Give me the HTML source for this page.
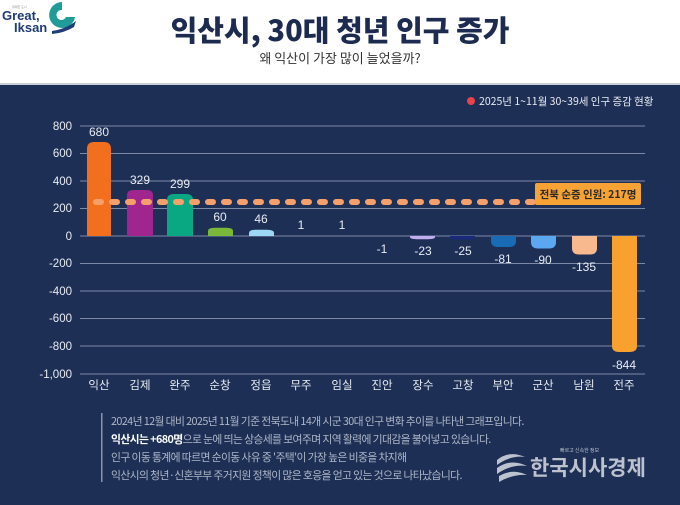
<!DOCTYPE html>
<html><head><meta charset="utf-8"><style>
body{margin:0;width:680px;height:500px;overflow:hidden;background:#1d2f55;font-family:"Liberation Sans","Noto Sans CJK KR",sans-serif}
</style></head><body>
<svg width="680" height="500" xmlns="http://www.w3.org/2000/svg" font-family="Liberation Sans, Noto Sans CJK KR, sans-serif">
<rect x="0" y="0" width="680" height="85" fill="#fff"/>
<rect x="0" y="83" width="680" height="2" fill="#c9ced8"/>
<rect x="0" y="85" width="680" height="415" fill="#1d2f55"/>
<text x="12" y="8" font-size="3" fill="#888">위대한 도시</text>
<text x="2" y="20" font-size="13" font-weight="bold" fill="#1f3c78">Great,</text>
<text x="14" y="32" font-size="13" font-weight="bold" fill="#1f3c78">Iksan</text>
<path d="M62 2 A13 13 0 1 0 75 17 L66 17 A5 5 0 1 1 62 10 Z" fill="#1f9c9a"/>
<path d="M52 31 Q66 29 76 21 L74 27 Q64 33 52 34Z" fill="#1f3c78"/>
<text x="340" y="41" font-size="29" font-weight="900" fill="#1c2b4f" text-anchor="middle" font-family="Noto Sans CJK KR, sans-serif">익산시, 30대 청년 인구 증가</text>
<text x="340" y="63" font-size="13" fill="#333" text-anchor="middle" font-family="Noto Sans CJK KR, sans-serif">왜 익산이 가장 많이 늘었을까?</text>
<circle cx="471" cy="101" r="4" fill="#e8434a"/>
<text x="479" y="105" font-size="10.5" fill="#e8ecf3" font-family="Noto Sans CJK KR, sans-serif">2025년 1~11월 30~39세 인구 증감 현황</text>
<g stroke="#7d8aa6" stroke-width="1">
<line x1="80" y1="126" x2="645" y2="126"/><line x1="80" y1="153.5" x2="645" y2="153.5"/>
<line x1="80" y1="181" x2="645" y2="181"/><line x1="80" y1="208.5" x2="645" y2="208.5"/>
<line x1="80" y1="236" x2="645" y2="236"/><line x1="80" y1="263.5" x2="645" y2="263.5"/>
<line x1="80" y1="291" x2="645" y2="291"/><line x1="80" y1="318.5" x2="645" y2="318.5"/>
<line x1="80" y1="346" x2="645" y2="346"/><line x1="80" y1="374" x2="645" y2="374"/>
</g>
<g font-size="11.5" fill="#e8ecf3" text-anchor="end">
<text x="72" y="130">800</text><text x="72" y="157">600</text><text x="72" y="185">400</text>
<text x="72" y="212">200</text><text x="72" y="240">0</text><text x="72" y="267">-200</text>
<text x="72" y="295">-400</text><text x="72" y="322">-600</text><text x="72" y="350">-800</text>
<text x="72" y="378">-1,000</text>
</g>
<g>
<path d="M87 236 V149 Q87 142 94 142 H104 Q111 142 111 149 V236Z" fill="#f26f1d"/>
<path d="M127 236 V195 Q127 190 134 190 H146 Q153 190 153 195 V236Z" fill="#a0258f"/>
<path d="M167 236 V200 Q167 194 174 194 H186 Q193 194 193 200 V236Z" fill="#0aa882"/>
<path d="M208 236 V231 Q208 227.7 215 227.7 H226 Q233 227.7 233 231 V236Z" fill="#7ab83a"/>
<path d="M249 236 V233 Q249 229.7 256 229.7 H267 Q274 229.7 274 233 V236Z" fill="#9dd7f5"/>
<path d="M410 236 V237 Q410 239.2 417 239.2 H428 Q435 239.2 435 237 V236Z" fill="#c0aef0"/>
<path d="M450 236 V237 Q450 239.5 457 239.5 H468 Q475 239.5 475 237 V236Z" fill="#1a2a7a"/>
<path d="M491 236 V241 Q491 247 498 247 H509 Q516 247 516 241 V236Z" fill="#1a6bb5"/>
<path d="M531 236 V242 Q531 248.5 538 248.5 H549 Q556 248.5 556 242 V236Z" fill="#5ba8f0"/>
<path d="M572 236 V248 Q572 254.5 579 254.5 H590 Q597 254.5 597 248 V236Z" fill="#f9b98e"/>
<path d="M612 236 V346 Q612 352 619 352 H630 Q637 352 637 346 V236Z" fill="#f9a12e"/>
</g>
<line x1="96" y1="202" x2="535" y2="202" stroke="#f4a06a" stroke-width="6" stroke-linecap="round" stroke-dasharray="5 11"/>
<rect x="535" y="183" width="106" height="22" rx="2" fill="#f6a234"/>
<text x="588" y="198" font-size="10.5" font-weight="bold" fill="#2a2a2a" text-anchor="middle" font-family="Noto Sans CJK KR, sans-serif">전북 순증 인원: 217명</text>
<g font-size="12" fill="#e8ecf3" text-anchor="middle">
<text x="99" y="136">680</text><text x="140" y="184">329</text><text x="180" y="188">299</text>
<text x="220" y="221">60</text><text x="261" y="223">46</text><text x="301" y="229">1</text>
<text x="342" y="229">1</text><text x="382" y="253">-1</text><text x="423" y="255">-23</text>
<text x="463" y="255">-25</text><text x="503" y="263">-81</text><text x="543" y="264">-90</text>
<text x="584" y="271">-135</text><text x="624" y="369">-844</text>
</g>
<g font-size="11.5" fill="#e8ecf3" text-anchor="middle" font-family="Noto Sans CJK KR, sans-serif">
<text x="99" y="389">익산</text><text x="140" y="389">김제</text><text x="180" y="389">완주</text>
<text x="220" y="389">순창</text><text x="261" y="389">정읍</text><text x="301" y="389">무주</text>
<text x="342" y="389">임실</text><text x="382" y="389">진안</text><text x="423" y="389">장수</text>
<text x="463" y="389">고창</text><text x="503" y="389">부안</text><text x="543" y="389">군산</text>
<text x="584" y="389">남원</text><text x="624" y="389">전주</text>
</g>
<rect x="101" y="413" width="1.5" height="69" fill="#8a94aa"/>
<g font-size="10.8" fill="#aeb7c8" font-family="Noto Sans CJK KR, sans-serif" letter-spacing="-0.6">
<text x="111" y="425">2024년 12월 대비 2025년 11월 기준 전북도내 14개 시군 30대 인구 변화 추이를 나타낸 그래프입니다.</text>
<text x="111" y="443"><tspan fill="#fff" font-weight="bold">익산시는 +680명</tspan>으로 눈에 띄는 상승세를 보여주며 지역 활력에 기대감을 불어넣고 있습니다.</text>
<text x="111" y="461">인구 이동 통계에 따르면 순이동 사유 중 '주택'이 가장 높은 비중을 차지해</text>
<text x="111" y="479">익산시의 청년·신혼부부 주거지원 정책이 많은 호응을 얻고 있는 것으로 나타났습니다.</text>
</g>
<g fill="#d8dce4" opacity="0.85">
<path d="M497 460 q12 -10 28 -3 q-14 -2 -28 8z"/>
<path d="M497 468 q14 -10 30 -2 q-16 -2 -30 8z"/>
<path d="M499 476 q14 -8 28 -1 q-14 -1 -28 7z"/>
<text x="560" y="452" font-size="5" font-family="Noto Sans CJK KR, sans-serif">빠르고 신속한 정보</text>
<text x="530" y="475" font-size="21" font-weight="bold" font-family="Noto Sans CJK KR, sans-serif">한국시사경제</text>
</g>
</svg>
</body></html>
